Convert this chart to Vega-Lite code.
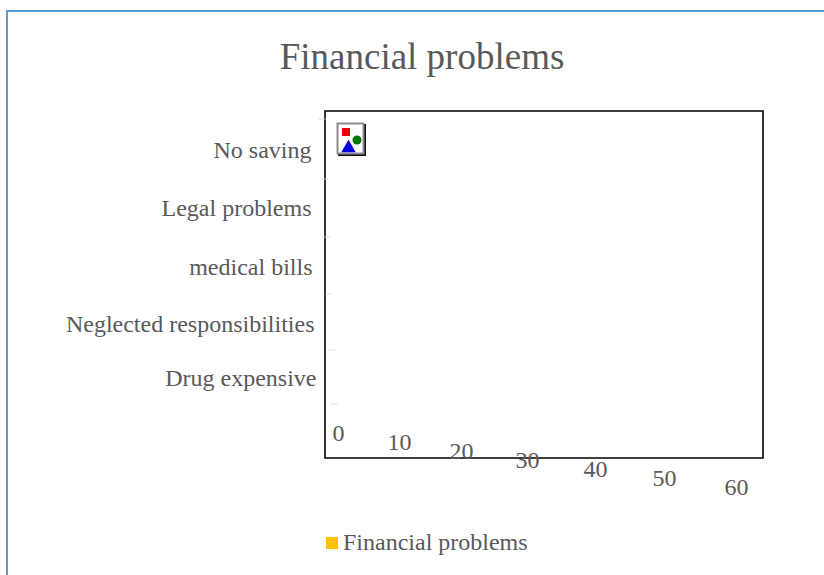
{
  "$schema": "https://vega.github.io/schema/vega-lite/v6.json",
  "width": 438,
  "height": 347,
  "padding": {"left": 325, "top": 111, "right": 61, "bottom": 117},
  "autosize": "none",
  "background": "white",
  "view": {"stroke": "#000000", "strokeWidth": 1.6, "fill": "white"},
  "title": {
    "text": "Financial problems",
    "font": "Liberation Serif",
    "fontSize": 37,
    "fontWeight": "normal",
    "color": "#595959",
    "anchor": "start",
    "frame": "group",
    "align": "center",
    "baseline": "middle",
    "dx": 97,
    "dy": 89
  },
  "config": {"font": "Liberation Serif"},
  "resolve": {"scale": {"x": "independent", "y": "independent", "color": "independent", "stroke": "independent"}},
  "layer": [
    {
      "description": "Page border running off the lower and right edges",
      "data": {"values": [{"from": 0, "to": 1}]},
      "mark": {"type": "rect", "fill": null, "stroke": "#5B9BD5", "strokeWidth": 2, "clip": false},
      "encoding": {
        "x": {"field": "from", "type": "quantitative", "axis": null, "scale": {"domain": [0, 1], "range": [-318, 600]}},
        "x2": {"field": "to"},
        "y": {"field": "to", "type": "quantitative", "axis": null, "scale": {"domain": [0, 1], "range": [560, -100]}},
        "y2": {"field": "from"}
      }
    },
    {
      "description": "Categories and series; the bars themselves did not render, so their length stays at zero",
      "data": {
        "values": [
          {"reason": "No saving", "share": 0, "series": "Financial problems"},
          {"reason": "Legal problems", "share": 0, "series": "Financial problems"},
          {"reason": "medical bills", "share": 0, "series": "Financial problems"},
          {"reason": "Neglected responsibilities", "share": 0, "series": "Financial problems"},
          {"reason": "Drug expensive", "share": 0, "series": "Financial problems"}
        ]
      },
      "mark": {"type": "bar"},
      "encoding": {
        "y": {
          "field": "reason",
          "type": "nominal",
          "sort": null,
          "title": null,
          "scale": {"paddingInner": 0, "paddingOuter": 0},
          "axis": {
            "domain": false,
            "ticks": false,
            "labelFont": "Liberation Serif",
            "labelFontSize": 24,
            "labelColor": "#595959",
            "labelLimit": 400,
            "labelPadding": 5,
            "encoding": {
              "labels": {
                "dx": {"value": {"expr": "[-9, -9, -8, -6, -4][indexof(['No saving', 'Legal problems', 'medical bills', 'Neglected responsibilities', 'Drug expensive'], datum.value)]"}},
                "dy": {"value": {"expr": "[5, -6, -17, -29, -44][indexof(['No saving', 'Legal problems', 'medical bills', 'Neglected responsibilities', 'Drug expensive'], datum.value)]"}}
              }
            }
          }
        },
        "x": {
          "field": "share",
          "type": "quantitative",
          "title": null,
          "scale": {"domain": [0, 60]},
          "axis": {
            "values": [0, 10, 20, 30, 40, 50, 60],
            "grid": false,
            "domain": false,
            "ticks": false,
            "labelFlush": false,
            "labelFont": "Liberation Serif",
            "labelFontSize": 24,
            "labelColor": "#595959",
            "labelBaseline": "middle",
            "labelPadding": 0,
            "encoding": {
              "labels": {
                "dx": {"value": {"expr": "[13, 1, -10, -17, -22, -26, -27][datum.value / 10]"}},
                "dy": {"value": {"expr": "-25 + 0.9 * datum.value"}}
              }
            }
          }
        },
        "color": {
          "field": "series",
          "type": "nominal",
          "scale": {"range": ["#FFC000"]},
          "legend": {
            "title": null,
            "orient": "none",
            "legendX": -5,
            "legendY": 420,
            "symbolType": "square",
            "symbolSize": 144,
            "labelOffset": -1,
            "labelFont": "Liberation Serif",
            "labelFontSize": 24,
            "labelColor": "#595959",
            "labelLimit": 400
          }
        }
      }
    },
    {
      "description": "Stray category tick marks, sliding right on the way down",
      "data": {"values": [{"boundary": 0}, {"boundary": 1}, {"boundary": 2}, {"boundary": 3}, {"boundary": 4}, {"boundary": 5}]},
      "mark": {"type": "tick", "orient": "horizontal", "size": 7, "thickness": 1.2, "color": "#D9D9D9", "clip": false},
      "encoding": {
        "x": {"field": "boundary", "type": "quantitative", "axis": null, "scale": {"domain": [0, 5], "range": [-3, 9]}},
        "y": {"field": "boundary", "type": "quantitative", "axis": null, "scale": {"domain": [0, 1, 2, 3, 4, 5], "range": [8, 68, 126, 183, 239, 293]}}
      }
    },
    {
      "description": "Missing-picture placeholder icon: bevel behind a white panel",
      "data": {"values": [{"part": "shadow", "fill": "bevel"}, {"part": "panel", "fill": "face"}]},
      "mark": {"type": "rect", "width": 26, "height": 30, "strokeWidth": 2},
      "encoding": {
        "x": {"field": "part", "type": "nominal", "axis": null, "scale": {"type": "point", "padding": 0, "domain": ["panel", "shadow"], "range": [25.5, 27]}},
        "y": {"field": "part", "type": "nominal", "axis": null, "scale": {"type": "point", "padding": 0, "domain": ["panel", "shadow"], "range": [27.5, 29]}},
        "color": {"field": "fill", "type": "nominal", "legend": null, "scale": {"domain": ["bevel", "face"], "range": ["#111111", "#FFFFFF"]}},
        "stroke": {"field": "fill", "type": "nominal", "legend": null, "scale": {"domain": ["bevel", "face"], "range": ["#111111", "#8C8C8C"]}},
        "order": {"field": "part", "sort": "descending"}
      }
    },
    {
      "description": "Placeholder icon glyphs",
      "data": {
        "values": [
          {"glyph": "red square", "slot": 0},
          {"glyph": "green disc", "slot": 1},
          {"glyph": "blue triangle", "slot": 2}
        ]
      },
      "mark": {"type": "point", "filled": true, "opacity": 1},
      "encoding": {
        "x": {"field": "slot", "type": "quantitative", "axis": null, "scale": {"domain": [0, 1, 2], "range": [21, 32, 23.5]}},
        "y": {"field": "slot", "type": "quantitative", "axis": null, "scale": {"domain": [0, 1, 2], "range": [21, 29, 35]}},
        "shape": {"field": "glyph", "type": "nominal", "legend": null, "scale": {"domain": ["red square", "green disc", "blue triangle"], "range": ["square", "circle", "triangle-up"]}},
        "color": {"field": "glyph", "type": "nominal", "legend": null, "scale": {"domain": ["red square", "green disc", "blue triangle"], "range": ["#F00000", "#007A00", "#0000E0"]}},
        "size": {"field": "slot", "type": "quantitative", "legend": null, "scale": {"domain": [0, 1, 2], "range": [64, 81, 210], "zero": false}}
      }
    }
  ]
}
